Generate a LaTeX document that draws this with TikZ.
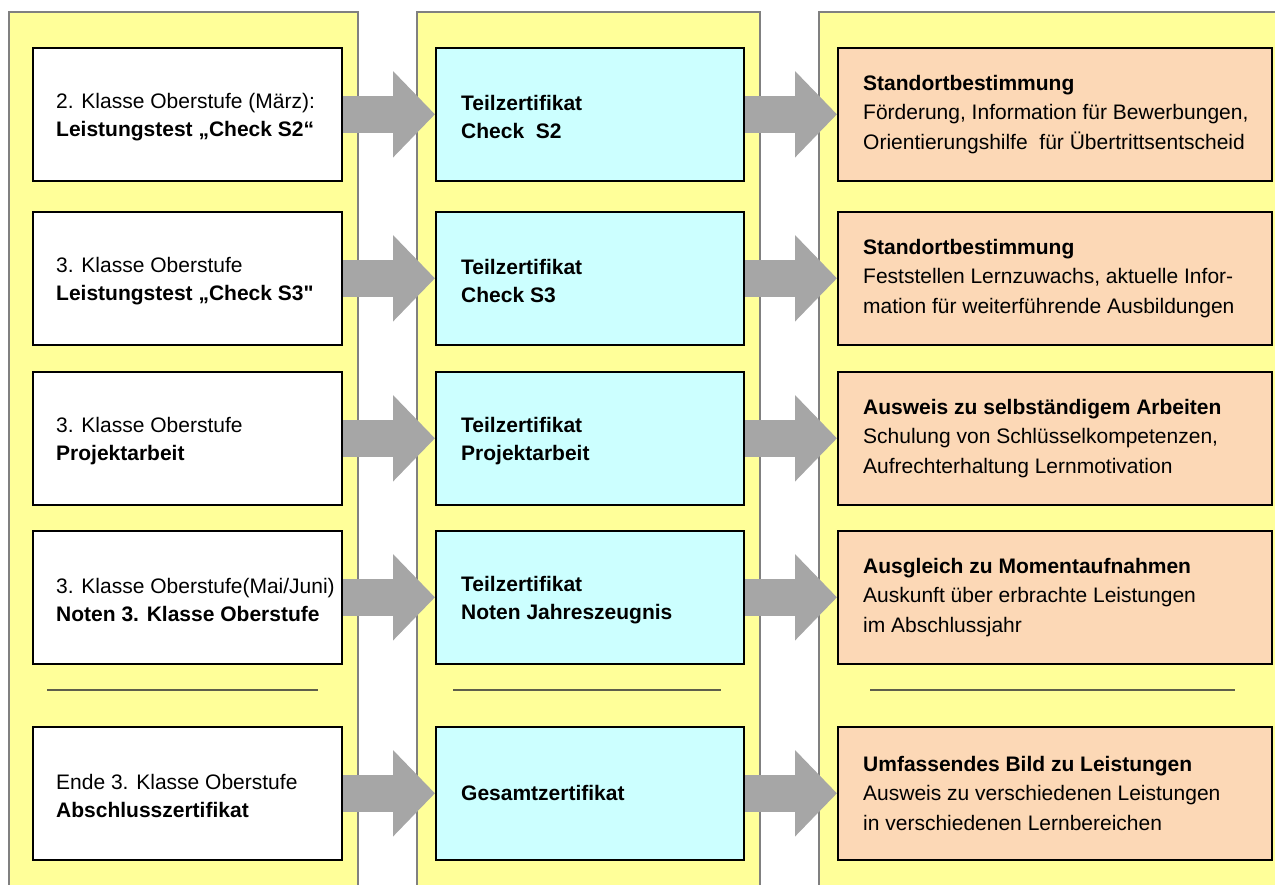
\documentclass[tikz,border=0pt]{standalone}
\usepackage{fontspec}
\setmainfont{Liberation Sans}
\usetikzlibrary{arrows.meta}
\pgfdeclarelayer{background}
\pgfsetlayers{background,main}
\definecolor{colyellow}{RGB}{255,255,153}
\definecolor{colcyan}{RGB}{204,255,255}
\definecolor{colpeach}{RGB}{252,216,182}
\definecolor{arrowgray}{RGB}{166,166,166}
\definecolor{colborder}{RGB}{128,128,128}
\definecolor{sepline}{RGB}{95,95,75}
\begin{document}
\begin{tikzpicture}[x=1pt,y=-1pt,
  column/.style={fill=colyellow, draw=colborder, line width=1.5pt},
  boxbase/.style={draw=black, line width=1.6pt, rectangle, minimum height=133pt, inner sep=0pt, anchor=north west},
  wbox/.style={boxbase, fill=white, minimum width=309pt},
  cbox/.style={boxbase, fill=colcyan, minimum width=308pt},
  obox/.style={boxbase, fill=colpeach, minimum width=434pt},
  ltxt/.style={anchor=west, align=left, inner sep=0pt, font=\fontsize{21}{28}\selectfont},
  rtxt/.style={anchor=west, align=left, inner sep=0pt, font=\fontsize{21}{29.5}\selectfont},
  bigarrow/.style={draw=arrowgray, line width=37pt, -{Triangle[length=42pt, width=84pt]}},
  sep/.style={draw=sepline, line width=1.8pt}
]
\useasboundingbox (0,0) rectangle (1275,885);
\clip (0,0) rectangle (1275,885);

% boxes
\node[wbox] (w1) at (32,47) {};
\node[wbox] (w2) at (32,211) {};
\node[wbox] (w3) at (32,371) {};
\node[wbox] (w4) at (32,530) {};
\node[wbox] (w5) at (32,726) {};

\node[cbox] (c1) at (435,47) {};
\node[cbox] (c2) at (435,211) {};
\node[cbox] (c3) at (435,371) {};
\node[cbox] (c4) at (435,530) {};
\node[cbox] (c5) at (435,726) {};

\node[obox] (o1) at (837,47) {};
\node[obox] (o2) at (837,211) {};
\node[obox] (o3) at (837,371) {};
\node[obox] (o4) at (837,530) {};
\node[obox] (o5) at (837,726) {};

% texts
\node[ltxt] (w1t) at ([xshift=24pt,yshift=-3pt]w1.west) {2. Klasse Oberstufe (März):\\\textbf{Leistungstest „Check S2“}};
\node[ltxt] (w2t) at ([xshift=24pt,yshift=-3pt]w2.west) {3. Klasse Oberstufe\\\textbf{Leistungstest „Check S3\textquotedbl}};
\node[ltxt] (w3t) at ([xshift=24pt,yshift=-3pt]w3.west) {3. Klasse Oberstufe\\\textbf{Projektarbeit}};
\node[ltxt] (w4t) at ([xshift=24pt,yshift=-3pt]w4.west) {3. Klasse Oberstufe(Mai/Juni)\\\textbf{Noten 3. Klasse Oberstufe}};
\node[ltxt] (w5t) at ([xshift=24pt,yshift=-3pt]w5.west) {Ende 3. Klasse Oberstufe\\\textbf{Abschlusszertifikat}};

\node[ltxt,font=\fontsize{21}{28}\selectfont\bfseries] (c1t) at ([xshift=26pt,yshift=-3pt]c1.west) {Teilzertifikat\\Check~ S2};
\node[ltxt,font=\fontsize{21}{28}\selectfont\bfseries] (c2t) at ([xshift=26pt,yshift=-3pt]c2.west) {Teilzertifikat\\Check S3};
\node[ltxt,font=\fontsize{21}{28}\selectfont\bfseries] (c3t) at ([xshift=26pt,yshift=-3pt]c3.west) {Teilzertifikat\\Projektarbeit};
\node[ltxt,font=\fontsize{21}{28}\selectfont\bfseries] (c4t) at ([xshift=26pt,yshift=-3pt]c4.west) {Teilzertifikat\\Noten Jahreszeugnis};
\node[ltxt,font=\fontsize{21}{28}\selectfont\bfseries] (c5t) at ([xshift=26pt]c5.west) {Gesamtzertifikat};

\node[rtxt] (o1t) at ([xshift=26pt]o1.west) {\textbf{Standortbestimmung}\\Förderung, Information für Bewerbungen,\\Orientierungshilfe~ für Übertrittsentscheid};
\node[rtxt] (o2t) at ([xshift=26pt]o2.west) {\textbf{Standortbestimmung}\\Feststellen Lernzuwachs, aktuelle Infor-\\mation für weiterführende Ausbildungen};
\node[rtxt] (o3t) at ([xshift=26pt]o3.west) {\textbf{Ausweis zu selbständigem Arbeiten}\\Schulung von Schlüsselkompetenzen,\\Aufrechterhaltung Lernmotivation};
\node[rtxt] (o4t) at ([xshift=26pt]o4.west) {\textbf{Ausgleich zu Momentaufnahmen}\\Auskunft über erbrachte Leistungen\\im Abschlussjahr};
\node[rtxt] (o5t) at ([xshift=26pt]o5.west) {\textbf{Umfassendes Bild zu Leistungen}\\Ausweis zu verschiedenen Leistungen\\in verschiedenen Lernbereichen};

\begin{pgfonlayer}{background}
  \draw[column] (9,12) rectangle (358,895);
  \draw[column] (417,12) rectangle (760,895);
  \draw[column] (819,12) rectangle (1300,895);
  \foreach \i in {1,...,5} {
    \draw[bigarrow] (w\i.east) -- (c\i.west);
    \draw[bigarrow] (c\i.east) -- (o\i.west);
  }
\end{pgfonlayer}

% separators
\draw[sep] (47,690) -- (318,690);
\draw[sep] (453,690) -- (721,690);
\draw[sep] (870,690) -- (1235,690);
\end{tikzpicture}
\end{document}
